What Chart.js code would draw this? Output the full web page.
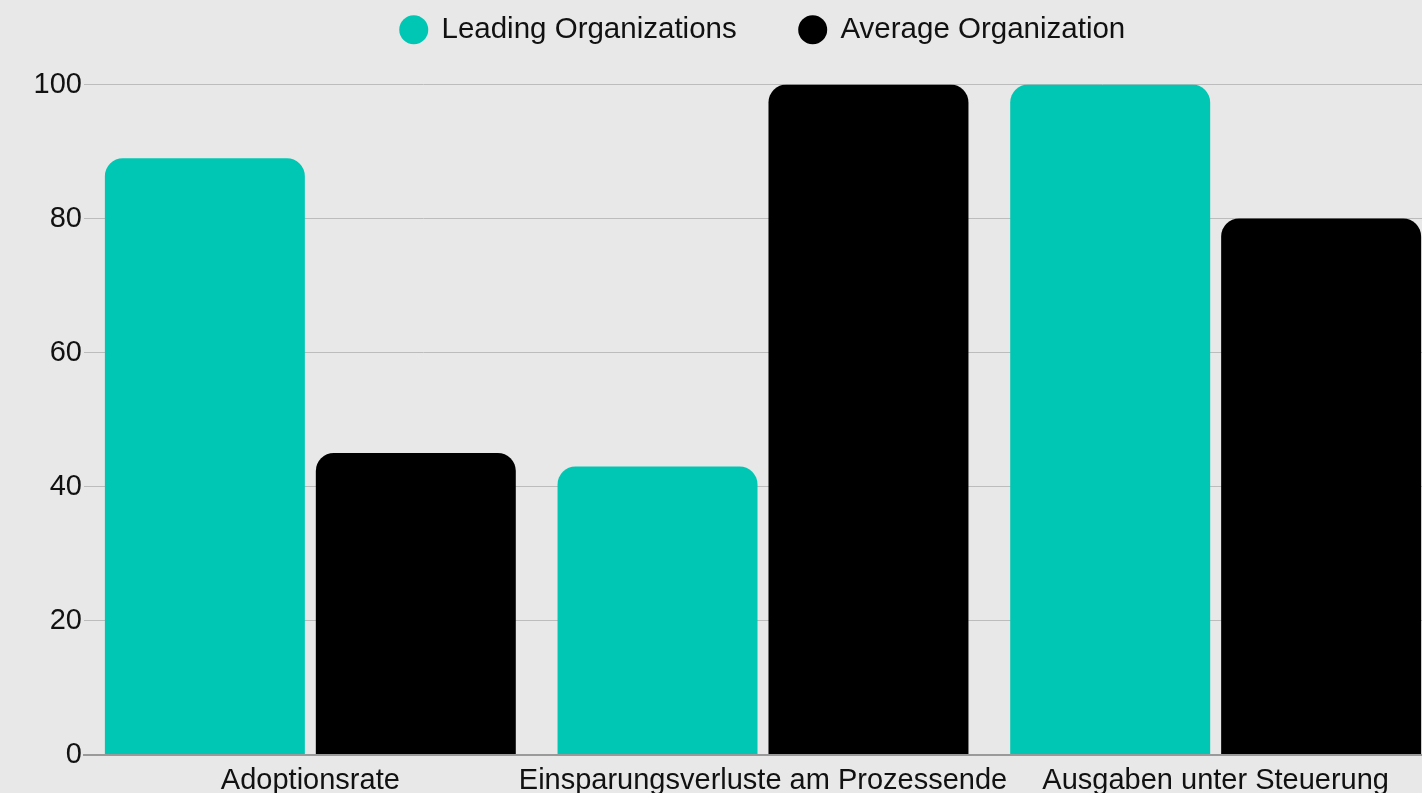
<!DOCTYPE html>
<html lang="de">
<head>
  <meta charset="UTF-8" />
  <title>Leading vs Average Organizations</title>
  <script src="https://cdn.jsdelivr.net/npm/chart.js"></script>
  <style>
    html, body {
      margin: 0;
      padding: 0;
      background: #e8e8e8;
      overflow: hidden;
    }

    /* slightly wider than the window: the right edge is cut off like in the original */
    .chart-container {
      width: 1442px;
      height: 793px;
    }
  </style>
</head>
<body>
  <div class="chart-container">
    <canvas id="orgChart"></canvas>
  </div>

  <script>
    const categories = ['Adoptionsrate', 'Einsparungsverluste am Prozessende', 'Ausgaben unter Steuerung'];
    const seriesNames = ['Leading Organizations', 'Average Organization'];
    const leadingValues = [89, 43, 100];
    const averageValues = [45, 100, 80];
    const yTicks = [0, 20, 40, 60, 80, 100];

    const fontFamily = '"Liberation Sans", Arial, Helvetica, sans-serif';

    // push the plot area down below the legend
    const legendGap = {
      id: 'legendGap',
      beforeInit(chart) {
        const fit = chart.legend.fit;
        chart.legend.fit = function () {
          fit.call(this);
          this.height += 30;
        };
      }
    };

    const ctx = document.getElementById('orgChart').getContext('2d');

    new Chart(ctx, {
      type: 'bar',
      data: {
        labels: categories,
        datasets: [
          {
            label: seriesNames[0],
            data: leadingValues,
            backgroundColor: '#00c7b3',
            borderRadius: 18,
            borderSkipped: 'start'
          },
          {
            label: seriesNames[1],
            data: averageValues,
            backgroundColor: '#000000',
            borderRadius: 18,
            borderSkipped: 'start'
          }
        ]
      },
      options: {
        responsive: true,
        maintainAspectRatio: false,
        animation: false,
        categoryPercentage: 0.932,
        barPercentage: 0.948,
        layout: {
          // labels run off the bottom edge in the original
          padding: { top: -48, left: 0, right: 0, bottom: -13.5 }
        },
        plugins: {
          legend: {
            position: 'top',
            fullSize: false,
            labels: {
              usePointStyle: true,
              pointStyle: 'circle',
              boxWidth: 26,
              boxHeight: 20.5,
              padding: 63,
              color: '#111',
              font: { family: fontFamily, size: 29.5 }
            }
          },
          tooltip: { enabled: false }
        },
        scales: {
          x: {
            grid: { display: false, drawTicks: false },
            border: { display: true, color: '#9a9a9a', width: 2 },
            ticks: {
              padding: 11.5,
              color: '#111',
              maxRotation: 0,
              autoSkip: false,
              font: { family: fontFamily, size: 29, lineHeight: 1 }
            }
          },
          y: {
            min: 0,
            max: 100,
            afterFit(scale) {
              scale.width = 84;
            },
            afterBuildTicks(scale) {
              scale.ticks = yTicks.map(v => ({ value: v }));
            },
            grid: { color: '#bcbcbc', lineWidth: 1, drawTicks: false },
            border: { display: false },
            ticks: {
              padding: 2,
              color: '#111',
              font: { family: fontFamily, size: 29 }
            }
          }
        }
      },
      plugins: [legendGap]
    });
  </script>
</body>
</html>
